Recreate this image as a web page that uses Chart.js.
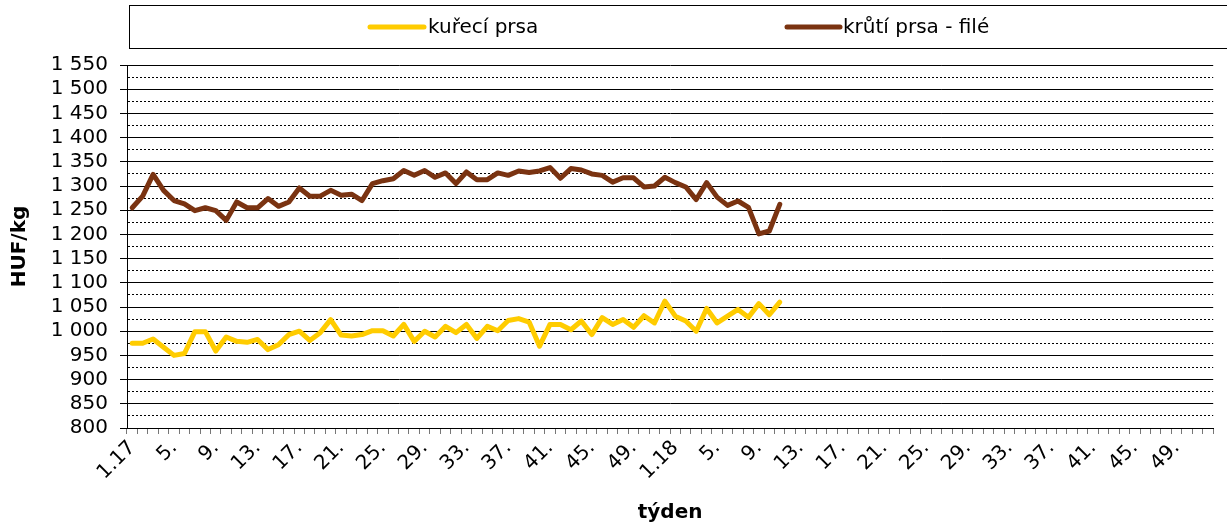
<!DOCTYPE html>
<html>
<head>
<meta charset="utf-8">
<script src="https://cdn.jsdelivr.net/npm/chart.js@4.4.1/dist/chart.umd.min.js"></script>
<style>
  body { margin: 0; background: #fff; }
</style>
</head>
<body>
<canvas id="chart" width="1227" height="526"></canvas>
<script>
// week categories: 1.17, 2., ... 52., 1.18, 2., ... 52.
const years = ['17', '18'];
const weekLabels = [];
years.forEach((y) => {
  for (let w = 1; w <= 52; w++) weekLabels.push(w === 1 ? '1.' + y : w + '.');
});

// HUF/kg (2017 wk 1 .. 2018 wk 11)
const chickenBreast = [
  975, 975, 984, 967, 950, 954, 999, 999, 959, 988,
  979, 977, 983, 962, 972, 993, 1000, 981, 997, 1024,
  992, 990, 993, 1001, 1001, 990, 1014, 979, 1000, 988,
  1010, 997, 1014, 985, 1010, 1001, 1022, 1026, 1019, 969,
  1014, 1014, 1003, 1021, 993, 1028, 1014, 1024, 1008, 1032,
  1017, 1062, 1031, 1021, 1000, 1047, 1017, 1031, 1045, 1029,
  1057, 1034, 1060
];
const turkeyFillet = [
  1255, 1279, 1324, 1291, 1270, 1263, 1249, 1255, 1249, 1229,
  1267, 1255, 1255, 1274, 1258, 1267, 1296, 1279, 1279, 1291,
  1281, 1283, 1270, 1305, 1311, 1315, 1332, 1322, 1332, 1318,
  1327, 1305, 1329, 1313, 1313, 1327, 1322, 1331, 1328, 1331,
  1338, 1316, 1336, 1333, 1325, 1322, 1308, 1317, 1317, 1298,
  1300, 1318, 1307, 1298, 1272, 1307, 1277, 1260, 1269, 1256,
  1201, 1207, 1262
];

const seriesNames = ['kuřecí prsa', 'krůtí prsa - filé'];
const seriesColors = ['#ffcc00', '#7a3311'];

const FONT = 'DejaVu Sans';

const fmtThousands = (v) =>
  v >= 1000 ? Math.floor(v / 1000) + ' ' + String(v % 1000).padStart(3, '0') : String(v);

// legend drawn inside a framed box above the plot, like the original
const boxLegend = {
  id: 'boxLegend',
  afterDraw(chart) {
    const ctx = chart.ctx;
    const slots = [[370, 424, 428], [787, 840, 843]];
    ctx.save();
    ctx.strokeStyle = '#000';
    ctx.lineWidth = 1;
    ctx.strokeRect(129.5, 5.5, 1100, 43);
    ctx.font = '20px "' + FONT + '"';
    ctx.textBaseline = 'middle';
    ctx.fillStyle = '#000';
    chart.data.datasets.forEach((ds, i) => {
      const [x0, x1, tx] = slots[i];
      ctx.strokeStyle = ds.borderColor;
      ctx.lineWidth = 5;
      ctx.lineCap = 'round';
      ctx.beginPath();
      ctx.moveTo(x0, 27);
      ctx.lineTo(x1, 27);
      ctx.stroke();
      ctx.fillText(ds.label, tx, 28);
    });
    ctx.restore();
  },
};

new Chart(document.getElementById('chart'), {
  type: 'line',
  data: {
    labels: weekLabels,
    datasets: [
      {
        label: seriesNames[0],
        data: chickenBreast,
        borderColor: seriesColors[0],
        backgroundColor: seriesColors[0],
        borderWidth: 5,
        pointRadius: 0,
        tension: 0,
        borderJoinStyle: 'round',
        borderCapStyle: 'round',
      },
      {
        label: seriesNames[1],
        data: turkeyFillet,
        borderColor: seriesColors[1],
        backgroundColor: seriesColors[1],
        borderWidth: 5,
        pointRadius: 0,
        tension: 0,
        borderJoinStyle: 'round',
        borderCapStyle: 'round',
      },
    ],
  },
  options: {
    responsive: false,
    animation: false,
    layout: { padding: { top: 65, right: 7, left: 0, bottom: 0 } },
    plugins: {
      legend: { display: false },
      tooltip: { enabled: false },
    },
    scales: {
      x: {
        offset: true,
        grid: { offset: true, drawOnChartArea: false, tickLength: 6, color: '#777' },
        border: { color: '#000', width: 1 },
        ticks: {
          autoSkip: false,
          maxRotation: 45,
          minRotation: 45,
          padding: 2,
          color: '#000',
          font: { family: FONT, size: 20 },
          callback: (v, i) => (i % 4 === 0 ? weekLabels[i] : ''),
        },
        title: {
          display: true,
          text: 'týden',
          color: '#000',
          font: { family: FONT, size: 20, weight: 'bold' },
          padding: { top: 0, bottom: 1 },
        },
        afterFit: (s) => { s.height = 98; },
      },
      y: {
        min: 800,
        max: 1550,
        grid: {
          color: '#000',
          lineWidth: 1,
          tickLength: 7,
          tickColor: (c) => (c.tick && c.tick.value % 50 === 0 ? '#000' : 'rgba(0,0,0,0)'),
        },
        border: {
          color: '#000',
          dash: (c) => (c.tick && c.tick.value % 50 !== 0 ? [2, 2] : []),
        },
        ticks: {
          stepSize: 25,
          autoSkip: false,
          padding: 12,
          color: '#000',
          font: { family: FONT, size: 20 },
          callback: (v) => (v % 50 === 0 ? fmtThousands(v) : ''),
        },
        title: {
          display: true,
          text: 'HUF/kg',
          color: '#000',
          font: { family: FONT, size: 20, weight: 'bold' },
          padding: { top: 8, bottom: 0 },
        },
        afterFit: (s) => { s.width = 127; },
      },
    },
  },
  plugins: [boxLegend],
});
</script>
</body>
</html>
